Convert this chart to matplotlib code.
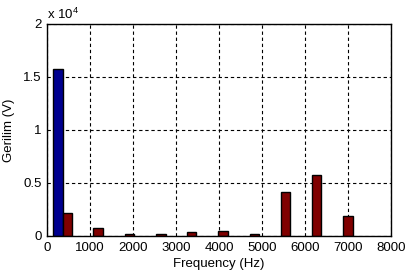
import matplotlib
matplotlib.use("Agg")
import matplotlib.pyplot as plt
from matplotlib.ticker import FuncFormatter

# data (frequency in Hz, voltage)
blue_freq = [256]
blue_vals = [15730]
red_freq = [470, 1186, 1922, 2650, 3368, 4093, 4830, 5555, 6275, 7000]
red_vals = [2140, 720, 190, 160, 380, 470, 190, 4120, 5750, 1860]

plt.rcParams['font.family'] = ['Liberation Sans', 'DejaVu Sans']
plt.rcParams['font.size'] = 9.5
plt.rcParams['mathtext.default'] = 'regular'

fig = plt.figure(figsize=(4.14, 2.72), dpi=100)
ax = fig.add_axes([0.1135, 0.1324, 0.8309, 0.7794])

ax.bar(blue_freq, blue_vals, width=215, color='#00008f', edgecolor='black', linewidth=1, zorder=3)
ax.bar(red_freq, red_vals, width=215, color='#800000', edgecolor='black', linewidth=1, zorder=3)

ax.set_xlim(0, 8000)
ax.set_ylim(0, 20000)
ax.set_xticks(range(0, 8001, 1000))
ax.set_yticks([0, 5000, 10000, 15000, 20000])
ax.yaxis.set_major_formatter(FuncFormatter(lambda v, p: f"{v/1e4:g}"))
ax.grid(True, color='black', linestyle=(0, (3, 2.5)), linewidth=0.8, zorder=0)
ax.tick_params(direction='in', length=0, pad=4)
for s in ax.spines.values():
    s.set_linewidth(1)
    s.set_zorder(4)

ax.set_xlabel('Frequency (Hz)', labelpad=3)
ax.set_ylabel('Gerilim (V)', labelpad=6)
ax.text(0.0, 1.01, r'x 10$^4$', transform=ax.transAxes, ha='left', va='bottom', fontsize=9.5)

fig.savefig('out.png', dpi=100)
